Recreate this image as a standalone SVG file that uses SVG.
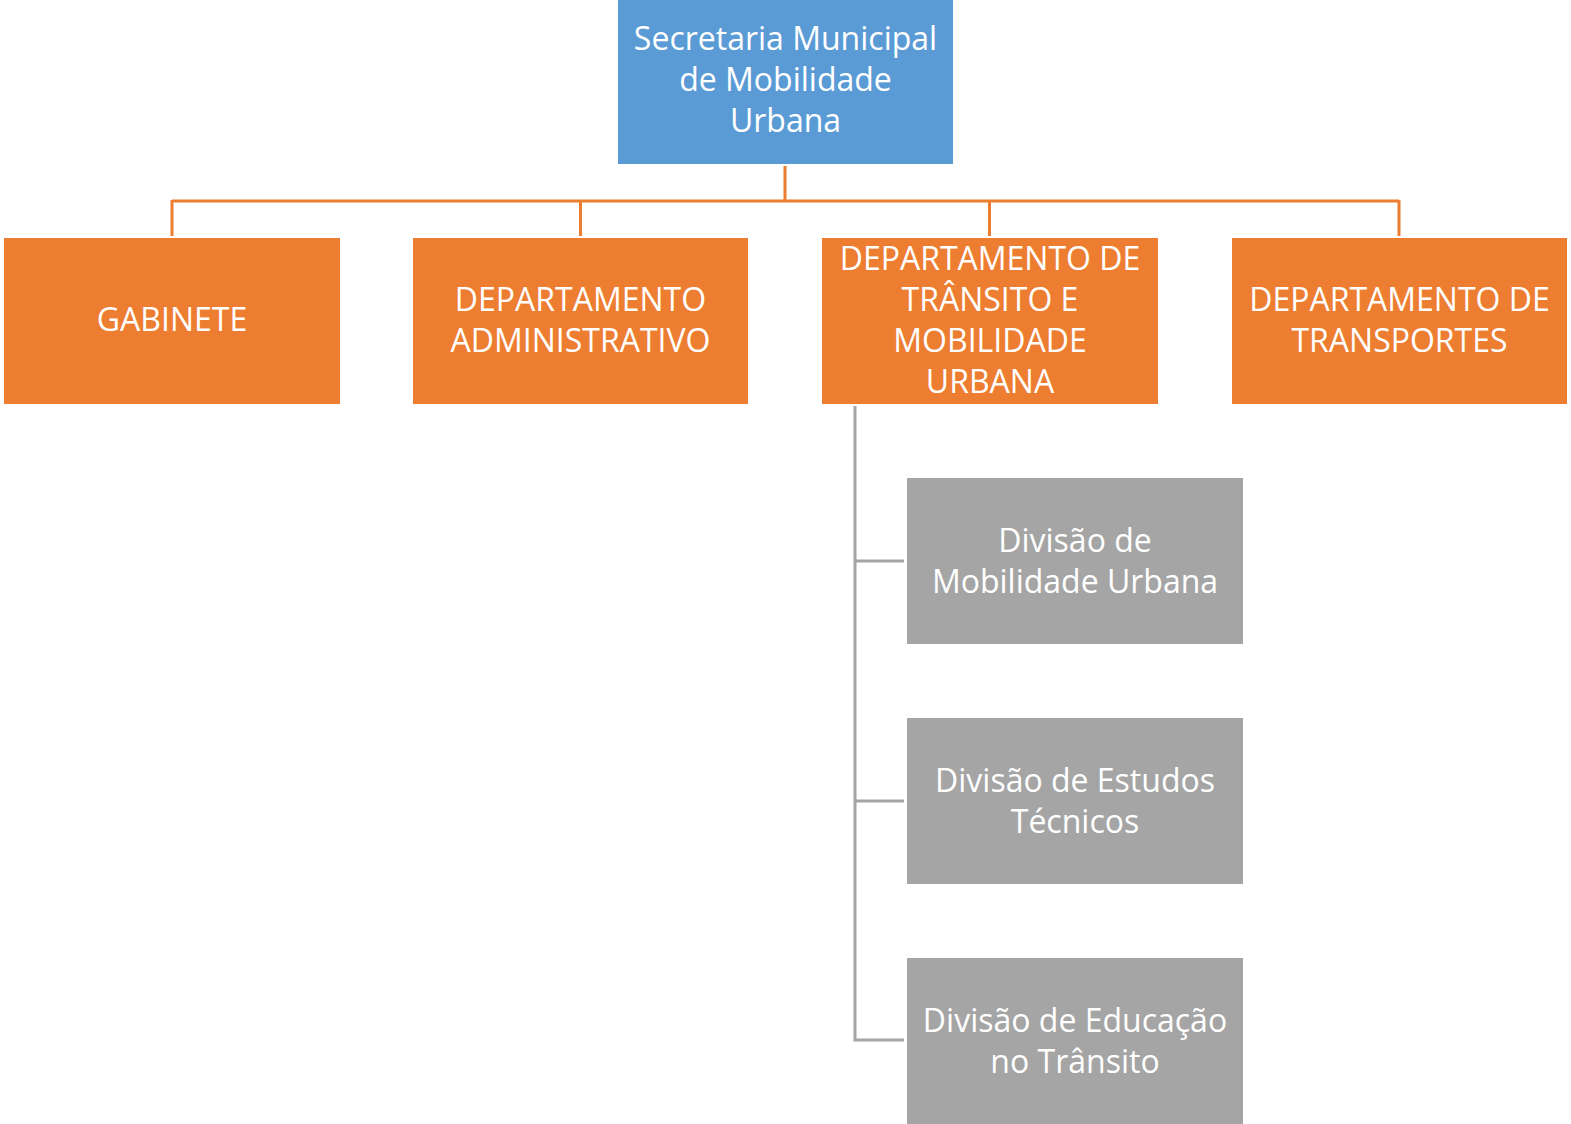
<svg xmlns="http://www.w3.org/2000/svg" width="1571" height="1124" viewBox="0 0 1571 1124">
<style>
.t{font-family:"Open Sans","Noto Sans","Liberation Sans",sans-serif;font-size:32px;fill:#fff;text-anchor:middle}
.blue{fill:#5B9BD5}
.orange{fill:#ED7D31}
.gray{fill:#A5A5A5}
.co{fill:none;stroke:#ED7D31;stroke-width:3}
.cg{fill:none;stroke:#A5A5A5;stroke-width:3}
</style>
<rect width="1571" height="1124" fill="#fff"/>
<g id="connectors">
<path class="co" d="M785 166V201M172 201H1399M172 200V236M580.5 200V236M989.5 200V236M1399 200V236"/>
<path class="cg" d="M855 406V1040M853.5 561H904M853.5 801H904M853.5 1040H904"/>
</g>
<g id="secretaria">
<rect class="blue" x="618" y="0" width="335" height="164"/>
<text class="t" x="785.5" y="50">Secretaria Municipal</text>
<text class="t" x="785.5" y="91">de Mobilidade</text>
<text class="t" x="785.5" y="132">Urbana</text>
</g>
<g id="gabinete">
<rect class="orange" x="4" y="238" width="336" height="166"/>
<text class="t" x="172" y="331">GABINETE</text>
</g>
<g id="dep-adm">
<rect class="orange" x="413" y="238" width="335" height="166"/>
<text class="t" x="580.5" y="310.5">DEPARTAMENTO</text>
<text class="t" x="580.5" y="351.5">ADMINISTRATIVO</text>
</g>
<g id="dep-transito">
<rect class="orange" x="822" y="238" width="336" height="166"/>
<text class="t" x="990" y="269.5">DEPARTAMENTO DE</text>
<text class="t" x="990" y="310.5">TRÂNSITO E</text>
<text class="t" x="990" y="351.5">MOBILIDADE</text>
<text class="t" x="990" y="392.5">URBANA</text>
</g>
<g id="dep-transportes">
<rect class="orange" x="1232" y="238" width="335" height="166"/>
<text class="t" x="1399.5" y="310.5">DEPARTAMENTO DE</text>
<text class="t" x="1399.5" y="351.5">TRANSPORTES</text>
</g>
<g id="div-mobilidade">
<rect class="gray" x="907" y="478" width="336" height="166"/>
<text class="t" x="1075" y="551.5">Divisão de</text>
<text class="t" x="1075" y="592.5">Mobilidade Urbana</text>
</g>
<g id="div-estudos">
<rect class="gray" x="907" y="718" width="336" height="166"/>
<text class="t" x="1075" y="791.5">Divisão de Estudos</text>
<text class="t" x="1075" y="832.5">Técnicos</text>
</g>
<g id="div-educacao">
<rect class="gray" x="907" y="958" width="336" height="166"/>
<text class="t" x="1075" y="1031.5">Divisão de Educação</text>
<text class="t" x="1075" y="1072.5">no Trânsito</text>
</g>
</svg>
